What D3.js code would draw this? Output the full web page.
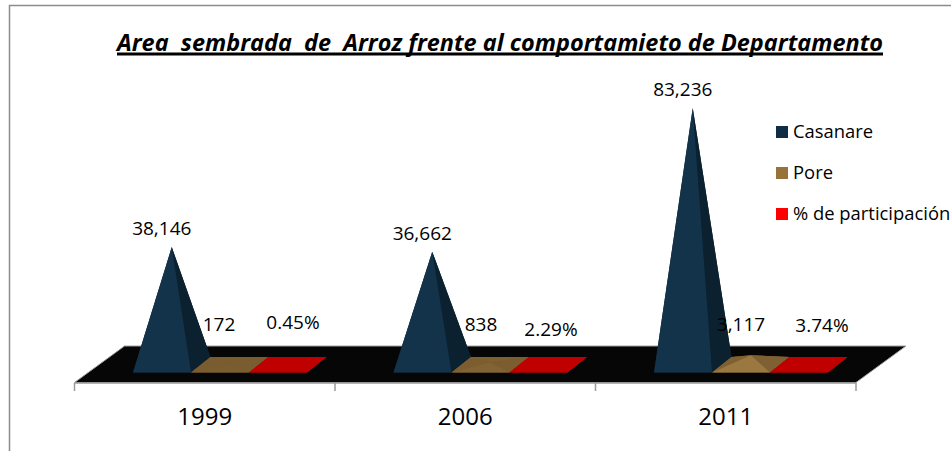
<!DOCTYPE html>
<html><head><meta charset="utf-8">
<script src="https://cdnjs.cloudflare.com/ajax/libs/d3/7.8.5/d3.min.js"></script>
<style>html,body{margin:0;background:#fff}svg{display:block}text{font-family:"Open Sans",sans-serif;fill:#000}</style>
</head><body><svg width="951" height="451"></svg>
<script>
const titleText = "Area  sembrada  de  Arroz frente al comportamieto de Departamento";
const years = ["1999","2006","2011"];
const casanare = [38146,36662,83236];
const pore = [172,838,3117];
const participacion = [0.45,2.29,3.74];
const seriesNames = ["Casanare","Pore","% de participación"];

const svg = d3.select("svg");
const M = {x0:74.5,x1:856,floorFront:382.5,floorBack:346,dx:50,baseFront:372.5,baseBack:357,baseMid:364.8};
const x = d3.scaleBand().domain(years).range([M.x0,M.x1]);
const y = d3.scaleLinear().domain([0,83236]).range([M.baseMid,108]);
const line = d3.line();

// outer border
svg.append("path").attr("d",line([[9.5,451],[9.5,5.5],[951,5.5]])).attr("fill","none").attr("stroke","#8c8c8c").attr("stroke-width",1.5);

// title
svg.append("text").attr("x",500).attr("y",50.5).attr("text-anchor","middle")
  .attr("font-size",23).attr("font-weight",700).attr("font-style","italic")
  .style("white-space","pre")
  .attr("textLength",766).attr("lengthAdjust","spacingAndGlyphs").text(titleText);
svg.append("line").attr("x1",117).attr("x2",883).attr("y1",54).attr("y2",54).attr("stroke","#000").attr("stroke-width",3);

// floor
const floorPts=[[M.x0,M.floorFront],[M.x0+M.dx,M.floorBack],[M.x1+M.dx,M.floorBack],[M.x1,M.floorFront]];
svg.append("path").attr("d",line(floorPts)+"Z").attr("fill","#060606");
svg.append("path").attr("d",line(floorPts)).attr("fill","none").attr("stroke","#a0a0a0").attr("stroke-width",1);

// axis
const axis = svg.append("g").attr("transform",`translate(0,${M.floorFront+0.5})`);
axis.append("path").attr("d",line([[M.x0,0],[M.x1,0]])).attr("stroke","#9a9a9a").attr("stroke-width",1.5).attr("fill","none");
axis.selectAll("line.t").data(years.map(d=>x(d)).concat(M.x1)).join("line").attr("class","t")
  .attr("x1",d=>d).attr("x2",d=>d).attr("y1",0).attr("y2",8).attr("stroke","#9a9a9a").attr("stroke-width",1.5);
const labels = svg.append("g").attr("transform",`translate(0,${M.floorFront})`)
  .call(d3.axisBottom(x).tickSize(0).tickPadding(25));
labels.select(".domain").remove();
labels.selectAll("text").attr("font-size",24).style("font-family",'"Open Sans",sans-serif').attr("fill","#000");

// pyramids
const segW = 58, slant = 19.5, firstOffset = 58.5;
const seriesList = [
 {values:casanare,fmt:d3.format(","),front:"#13334a",side:"#0b2130",back:"#0b2130",base:"#0b2130"},
 {values:pore,fmt:d3.format(","),front:"#9a7840",side:"#7f6032",back:"#8a6a36",base:"#795c2f"},
 {values:participacion.map(v=>v/100),fmt:d3.format(".2%"),front:"#c00000",side:"#c00000",back:"#c00000",base:"#c00000"}
];
const poreLabelPos = [[219,326],[481,326],[741,326]];
const pctLabelPos = [[293,324],[551,331],[822,327]];
years.forEach((yr,i)=>{
  seriesList.forEach((s,j)=>{
    const xl = x(yr)+firstOffset+j*segW, xr = xl+segW;
    const A=[xl,M.baseFront],B=[xr,M.baseFront],C=[xr+slant,M.baseBack],D=[xl+slant,M.baseBack];
    const apex=[(xl+xr+slant)/2,y(s.values[i])];
    const t=Math.min(1,(M.baseMid-apex[1])/9);
    const shade=c=>d3.interpolateRgb(s.base,c)(t);
    const g=svg.append("g");
    g.append("path").attr("d",line([A,B,C,D])+"Z").attr("fill",s.base);
    g.append("path").attr("d",line([D,C,apex])+"Z").attr("fill",shade(s.back));
    g.append("path").attr("d",line([A,D,apex])+"Z").attr("fill",shade(s.side));
    g.append("path").attr("d",line([B,C,apex])+"Z").attr("fill",shade(s.side));
    g.append("path").attr("d",line([A,B,apex])+"Z").attr("fill",shade(s.front));
    let lx,ly;
    if(j===0){lx=apex[0]-10;ly=apex[1]-17;}
    else if(j===1){[lx,ly]=poreLabelPos[i];}
    else {[lx,ly]=pctLabelPos[i];}
    svg.append("text").attr("class","dl").attr("x",lx).attr("y",ly).attr("text-anchor","middle").attr("dominant-baseline","middle")
      .attr("font-size",19).text(s.fmt(s.values[i]));
  });
});
svg.selectAll("text.dl").raise();

// legend
const legendColors=["#0f2d44","#977239","#ff0000"];
const leg=svg.selectAll("g.leg").data(seriesNames).join("g").attr("class","leg").attr("transform",(d,i)=>`translate(776,${132+i*41})`);
leg.append("rect").attr("x",0).attr("y",-6).attr("width",12).attr("height",12).attr("fill",(d,i)=>legendColors[i]);
leg.append("text").attr("x",17).attr("y",1).attr("dominant-baseline","middle").attr("font-size",18.4).text(d=>d);
</script></body></html>
